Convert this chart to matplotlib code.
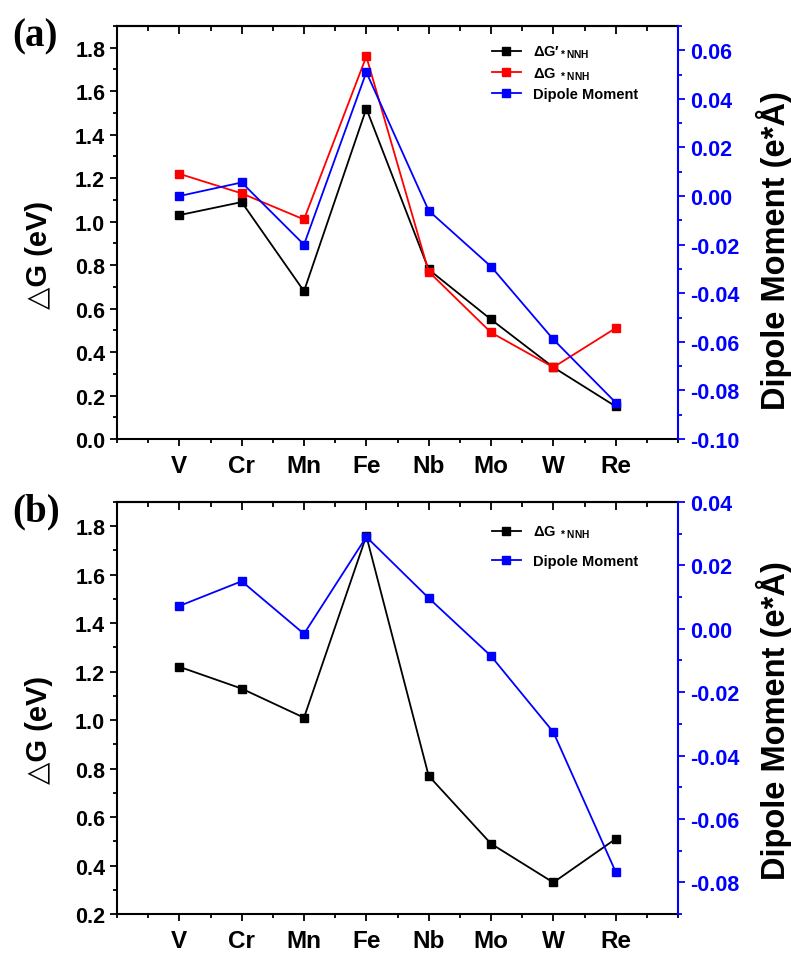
import numpy as np
import matplotlib
matplotlib.use("Agg")
import matplotlib.pyplot as plt
from matplotlib.ticker import MultipleLocator

plt.rcParams['font.family'] = ['Liberation Sans', 'DejaVu Sans']
plt.rcParams['font.weight'] = 'bold'
plt.rcParams['mathtext.fontset'] = 'custom'
plt.rcParams['mathtext.rm'] = 'Liberation Sans:bold'
plt.rcParams['mathtext.it'] = 'Liberation Sans:bold'
plt.rcParams['mathtext.bf'] = 'Liberation Sans:bold'

# data
metals = ["V", "Cr", "Mn", "Fe", "Nb", "Mo", "W", "Re"]
dg_prime_a = [1.03, 1.09, 0.68, 1.52, 0.78, 0.55, 0.33, 0.15]
dg_a = [1.22, 1.13, 1.01, 1.76, 0.77, 0.49, 0.33, 0.51]
dipole_a = [0.000, 0.0056, -0.020, 0.051, -0.006, -0.029, -0.059, -0.085]
dg_b = [1.22, 1.13, 1.01, 1.76, 0.77, 0.49, 0.33, 0.51]
dipole_b = [0.0072, 0.015, -0.0016, 0.029, 0.0097, -0.0086, -0.0326, -0.0767]

x = np.arange(1, len(metals) + 1)

fig = plt.figure(figsize=(7.91, 9.54), dpi=100)
ax_a = fig.add_axes([117 / 791, 1 - 440 / 954, 561 / 791, 413 / 954])
ax_b = fig.add_axes([117 / 791, 1 - 915 / 954, 561 / 791, 412 / 954])

ms = 5.5
lw = 1.3


def style_axes(ax, ax2, ylim, yticks, ylim2, yticks2, ylabel_y, ylabel2_y):
    ax.set_xlim(0, 9)
    ax.set_xticks(x)
    ax.set_xticklabels(metals, fontsize=17.5, fontweight='bold')
    ax.xaxis.set_minor_locator(MultipleLocator(0.5))
    ax.set_ylim(*ylim)
    ax.set_yticks(yticks)
    ax.set_yticklabels(["%.1f" % t for t in yticks], fontsize=15.5, fontweight='bold')
    ax.yaxis.set_minor_locator(MultipleLocator(0.1))
    ax.tick_params(axis='both', which='major', direction='out', length=5, width=1.3)
    ax.tick_params(axis='both', which='minor', direction='out', length=3, width=1.3)
    ax.tick_params(axis='x', pad=6)
    for s in ax.spines.values():
        s.set_linewidth(1.5)
    ax.spines['right'].set_visible(False)

    top = ax.secondary_xaxis('top')
    top.set_xticks(x)
    top.xaxis.set_minor_locator(MultipleLocator(0.5))
    top.tick_params(which='major', direction='in', length=6, width=1.3, labeltop=False)
    top.tick_params(which='minor', direction='in', length=3.5, width=1.3)
    top.spines['top'].set_linewidth(1.5)

    ax.set_ylabel("\u25b3G (eV)", fontsize=21, fontweight='bold')
    ax.yaxis.set_label_coords(-0.114, ylabel_y)

    ax2.set_ylim(*ylim2)
    ax2.set_yticks(yticks2)
    ax2.set_yticklabels(["%.2f" % t for t in yticks2], fontsize=15.5,
                        fontweight='bold', color='blue')
    ax2.yaxis.set_minor_locator(MultipleLocator(0.01))
    ax2.tick_params(axis='y', which='major', direction='out', length=5, width=1.3, colors='blue')
    ax2.tick_params(axis='y', which='minor', direction='out', length=3, width=1.3, colors='blue')
    for t in ax2.get_yticklabels():
        t.set_color('blue')
    ax2.spines['right'].set_color('blue')
    ax2.spines['right'].set_linewidth(1.5)
    ax2.spines['top'].set_visible(False)
    ax2.spines['left'].set_visible(False)
    ax2.spines['bottom'].set_visible(False)
    ax2.set_ylabel("Dipole Moment (e*\u00c5)", fontsize=23.5, fontweight='bold', color='black')
    ax2.yaxis.set_label_coords(1.139, ylabel2_y)


# panel (a)
ax2_a = ax_a.twinx()
l1, = ax_a.plot(x, dg_prime_a, '-s', color='black', ms=ms, lw=lw,
                label="\u0394G\u2032$_{\\rm *NNH}$")
l2, = ax_a.plot(x, dg_a, '-s', color='red', ms=ms, lw=lw,
                label="\u0394G $_{\\rm *NNH}$")
l3, = ax2_a.plot(x, dipole_a, '-s', color='blue', ms=ms, lw=lw, label="Dipole Moment")
style_axes(ax_a, ax2_a, (0, 1.9), np.arange(0, 1.81, 0.2),
           (-0.10, 0.07), np.arange(-0.10, 0.061, 0.02), 0.448, 0.458)
ax2_a.legend(handles=[l1, l2, l3], loc='upper left', bbox_to_anchor=(0.655, 0.975),
             frameon=False, fontsize=10.5, handlelength=2.0, handletextpad=0.8,
             labelspacing=0.35, borderpad=0)

# panel (b)
ax2_b = ax_b.twinx()
m1, = ax_b.plot(x, dg_b, '-s', color='black', ms=ms, lw=lw,
                label="\u0394G $_{\\rm *NNH}$")
m2, = ax2_b.plot(x, dipole_b, '-s', color='blue', ms=ms, lw=lw, label="Dipole Moment")
style_axes(ax_b, ax2_b, (0.2, 1.9), np.arange(0.2, 1.81, 0.2),
           (-0.09, 0.04), np.arange(-0.08, 0.041, 0.02), 0.449, 0.471)
ax2_b.legend(handles=[m1, m2], loc='upper left', bbox_to_anchor=(0.655, 0.965),
             frameon=False, fontsize=10.5, handlelength=2.0, handletextpad=0.8,
             labelspacing=0.95, borderpad=0)

fig.text(12 / 791, 1 - 37 / 954, "(a)", family='Liberation Serif', fontweight='bold',
         fontsize=28, va='center', ha='left')
fig.text(12 / 791, 1 - 512 / 954, "(b)", family='Liberation Serif', fontweight='bold',
         fontsize=28, va='center', ha='left')

fig.savefig("out.png", dpi=100)
